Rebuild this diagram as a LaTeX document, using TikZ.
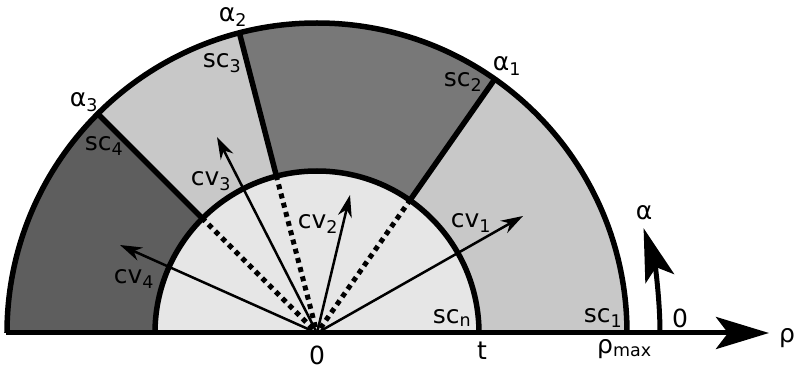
\documentclass[tikz,border=0pt]{standalone}
\usepackage{fontspec}
\setmainfont{DejaVu Sans}
\usetikzlibrary{arrows.meta}
\definecolor{lightg}{HTML}{C8C8C8}
\definecolor{midg}{HTML}{787878}
\definecolor{darkg}{HTML}{5E5E5E}
\definecolor{innerg}{HTML}{E6E6E6}
\tikzset{
  lbl/.style={inner sep=0pt, font=\fontsize{25}{30}\selectfont},
  thickline/.style={line width=5.5pt},
  dotline/.style={line width=5pt, dash pattern=on 5pt off 4.5pt},
  cvarrow/.style={line width=2.5pt, -{Stealth[length=22pt,width=14pt,inset=7pt]}},
  axisarrow/.style={line width=5pt, -{Stealth[length=53pt,width=32pt,inset=12pt]}}
}
\begin{document}
\begin{tikzpicture}[x=1pt,y=1pt]
\useasboundingbox (-317,-42) rectangle (479,333);
\def\Ro{310}
\def\Ri{162}
\coordinate (O) at (0,0);
% sectors
\fill[lightg] (0:\Ri) -- (0:\Ro) arc[start angle=0,end angle=55,radius=\Ro] -- (55:\Ri) arc[start angle=55,end angle=0,radius=\Ri] -- cycle;
\fill[midg] (55:\Ri) -- (55:\Ro) arc[start angle=55,end angle=104.5,radius=\Ro] -- (104.5:\Ri) arc[start angle=104.5,end angle=55,radius=\Ri] -- cycle;
\fill[lightg] (104.5:\Ri) -- (104.5:\Ro) arc[start angle=104.5,end angle=135,radius=\Ro] -- (135:\Ri) arc[start angle=135,end angle=104.5,radius=\Ri] -- cycle;
\fill[darkg] (135:\Ri) -- (135:\Ro) arc[start angle=135,end angle=180,radius=\Ro] -- (180:\Ri) arc[start angle=180,end angle=135,radius=\Ri] -- cycle;
\fill[innerg] (\Ri,0) arc[start angle=0,end angle=180,radius=\Ri] -- cycle;
% dotted lines
\coordinate (d1a) at (55:6);
\coordinate (d2a) at (104.5:6);
\coordinate (d3a) at (135:6);
\draw[dotline] (d1a) -- (55:\Ri);
\draw[dotline] (d2a) -- (104.5:\Ri);
\draw[dotline] (d3a) -- (135:\Ri);
% arrows
\coordinate (cv1t) at (206,117);
\coordinate (cv2t) at (33,138);
\coordinate (cv3t) at (-100,196);
\coordinate (cv4t) at (-197,88);
\draw[cvarrow] (O) -- (cv1t);
\draw[cvarrow] (O) -- (cv2t);
\draw[cvarrow] (O) -- (cv3t);
\draw[cvarrow] (O) -- (cv4t);
% thick outlines
\draw[thickline] (\Ro,0) arc[start angle=0,end angle=180,radius=\Ro];
\draw[thickline] (\Ri,0) arc[start angle=0,end angle=180,radius=\Ri];
\draw[thickline] (55:\Ri) -- (55:\Ro);
\draw[thickline] (104.5:\Ri) -- (104.5:\Ro);
\draw[thickline] (135:\Ri) -- (135:\Ro);
% axes
\coordinate (ax0) at (-311,0);
\coordinate (ax1) at (452,0);
\draw[axisarrow] (ax0) -- (ax1);
\coordinate (al0) at (343,0);
\draw[line width=5pt, -{Stealth[length=53pt,width=30pt,inset=12pt]}] (al0) arc[start angle=0,end angle=17.8,radius=343];
% labels
\node[lbl] (cv1) at (154,110) {cv\textsubscript{1}};
\node[lbl] (cv2) at (1,109) {cv\textsubscript{2}};
\node[lbl] (cv3) at (-106,152) {cv\textsubscript{3}};
\node[lbl] (cv4) at (-183,54) {cv\textsubscript{4}};
\node[lbl] (sc1) at (286,15) {sc\textsubscript{1}};
\node[lbl] (scn) at (135,15) {sc\textsubscript{n}};
\node[lbl] (sc2) at (146,251) {sc\textsubscript{2}};
\node[lbl] (sc3) at (-95,270) {sc\textsubscript{3}};
\node[lbl] (sc4) at (-213,187) {sc\textsubscript{4}};
\node[lbl] (a1) at (190,267) {α\textsubscript{1}};
\node[lbl] (a2) at (-84,316) {α\textsubscript{2}};
\node[lbl] (a3) at (-233,231) {α\textsubscript{3}};
\node[lbl, anchor=base] (zero) at (0,-32) {0};
\node[lbl, anchor=base] (tl) at (165,-27) {t};
\node[lbl, anchor=base west] (rmax) at (280,-20) {ρ\textsubscript{max}};
\node[lbl, anchor=base west] (rho) at (462,-10) {ρ};
\node[lbl] (alpha) at (327,120) {α};
\node[lbl] (azero) at (363,15) {0};
\end{tikzpicture}
\end{document}
